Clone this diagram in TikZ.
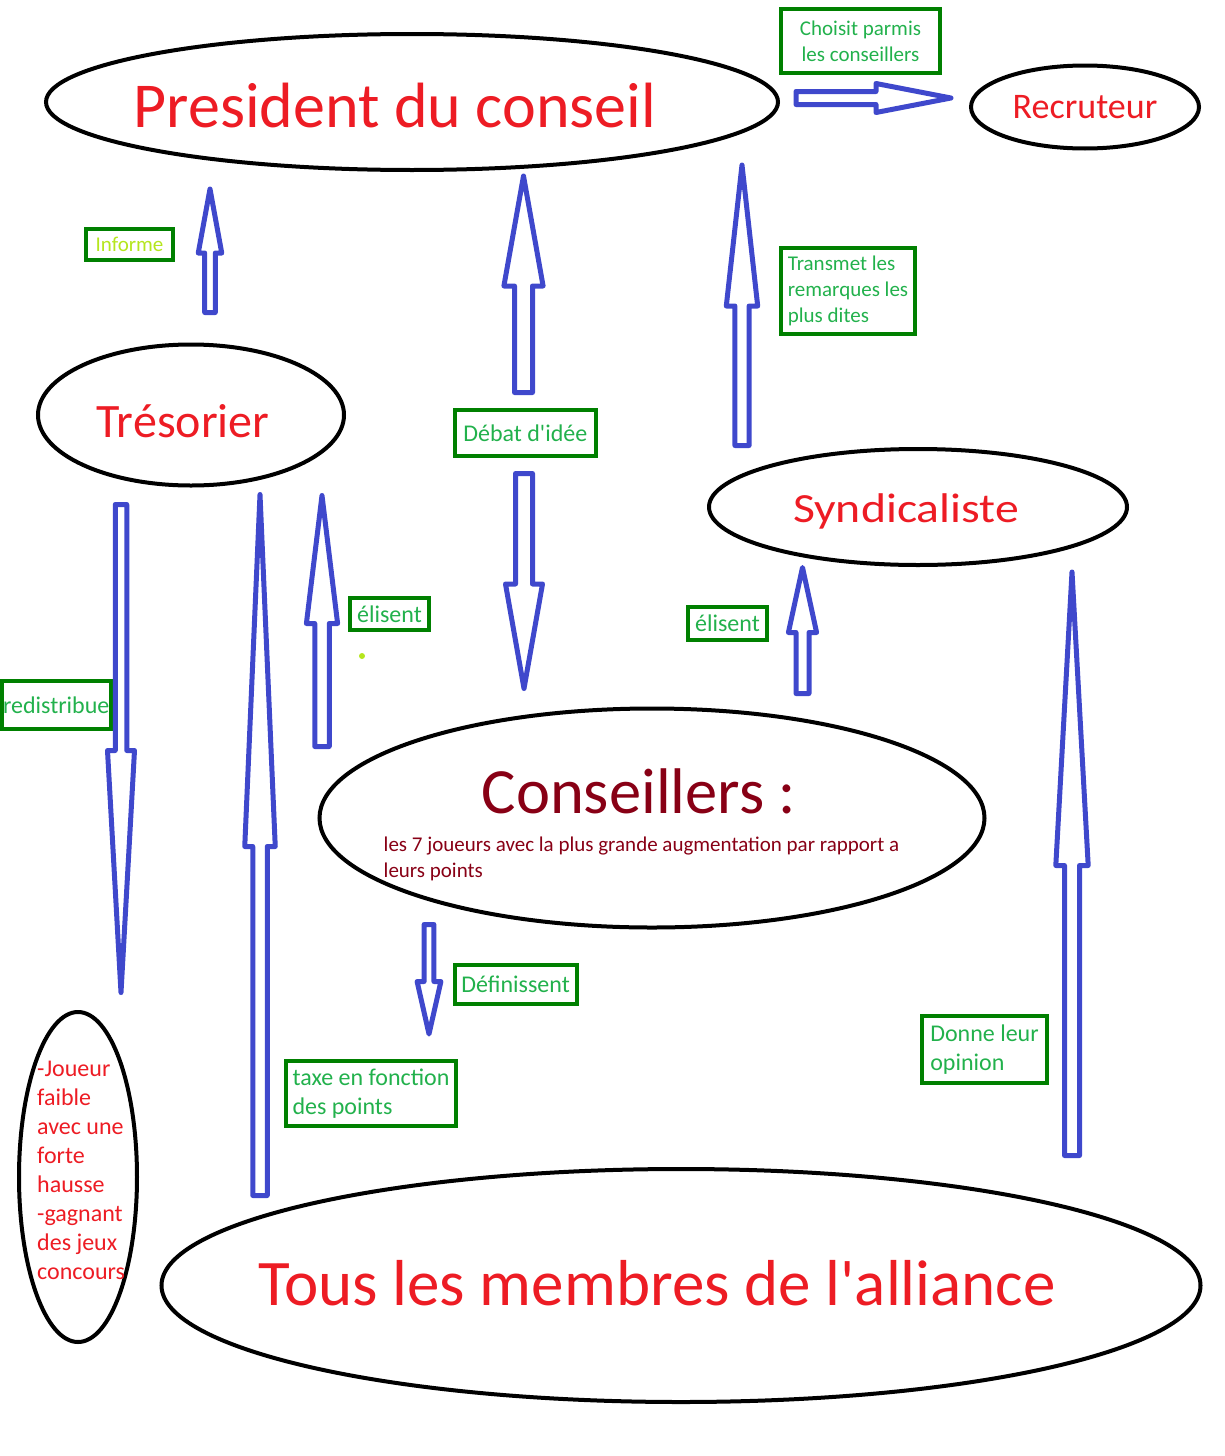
\documentclass[tikz,border=0pt]{standalone}
\usepackage{fontspec}
\setmainfont{Carlito}
\newfontfamily\widefont[FakeStretch=1.15]{Carlito}
\usetikzlibrary{calc,shapes.geometric}
\definecolor{paintred}{RGB}{237,28,36}
\definecolor{paintdarkred}{RGB}{136,0,21}
\definecolor{paintgreen}{RGB}{34,177,76}
\definecolor{boxgreen}{RGB}{0,128,0}
\definecolor{paintlime}{RGB}{181,230,29}
\definecolor{paintblue}{RGB}{63,72,204}
\tikzset{
	role/.style={
		ellipse,
		draw=black,
		line width=4pt,
		inner sep=0pt
	},
	role text/.style={
		anchor=base,
		inner sep=0pt,
		text=paintred
	},
	tag/.style={
		rectangle,
		draw=boxgreen,
		line width=4pt,
		inner sep=0pt,
		text=paintgreen,
		font=\fontsize{24}{29}\selectfont
	},
	small tag/.style={
		tag,
		font=\fontsize{21}{26}\selectfont
	},
	fat arrow/.style={
		draw=paintblue,
		line width=5pt,
		line join=round
	}
}
% block arrow: tail, tip, shaft half width, head half width, head length
\newcommand{\fatarrow}[5]{%
	\coordinate (fa-h) at ($(#2)!#5!(#1)$);
	\draw[fat arrow] ($(#1)!#3!90:(#2)$) -- ($(fa-h)!#3!-90:(#1)$) -- ($(fa-h)!#4!-90:(#1)$) -- (#2)
		-- ($(fa-h)!#4!90:(#1)$) -- ($(fa-h)!#3!90:(#1)$) -- ($(#1)!#3!-90:(#2)$) -- cycle;
}

\begin{document}
\begin{tikzpicture}[x=1pt,y=-1pt]
	\useasboundingbox (0,0) rectangle (1224,1456);

	% roles
	\node[role, minimum width=732pt, minimum height=136pt] (pres) at (412,102) {};
	\node[role text, font=\fontsize{64}{77}\selectfont] (pres-t) at (395,127) {President du conseil};
	\node[role, minimum width=228pt, minimum height=83pt] (recr) at (1085,107) {};
	\node[role text, font=\fontsize{36}{43}\selectfont] (recr-t) at (1085,118) {Recruteur};
	\node[role, minimum width=306pt, minimum height=141pt] (tres) at (191,415) {};
	\node[role text, font=\fontsize{48}{58}\selectfont] (tres-t) at (183,437) {Trésorier};
	\node[role, minimum width=418pt, minimum height=116pt] (synd) at (918,507) {};
	\node[role text, font=\widefont\fontsize{41.5}{50}\selectfont] (synd-t) at (906,522) {Syndicaliste};
	\node[role, minimum width=665pt, minimum height=219pt] (cons) at (652,818) {};
	\node[role text, text=paintdarkred, font=\fontsize{64.5}{77}\selectfont] (cons-t) at (639,813) {Conseillers :};
	\node[anchor=north west, inner sep=0pt, align=left, text=paintdarkred,
		font=\fontsize{21}{25.5}\selectfont] (cons-d) at (383.5,837) {les 7 joueurs avec la plus grande augmentation par rapport a\\leurs points};
	\node[role, minimum width=118pt, minimum height=330pt] (joueur) at (78,1177) {};
	\node[anchor=north west, inner sep=0pt, align=left, text=paintred,
		font=\fontsize{24}{29}\selectfont] (joueur-t) at (37,1061) {-Joueur\\faible\\avec une\\forte\\hausse\\-gagnant\\des jeux\\concours};
	\node[role, minimum width=1039pt, minimum height=233pt] (tous) at (681,1285.5) {};
	\node[role text, font=\fontsize{65}{78}\selectfont] (tous-t) at (657,1305) {Tous les membres de l\textquotesingle alliance};

	% tags
	\node[small tag, minimum width=159pt, minimum height=64pt, align=center] (choisit) at (860.5,41) {Choisit parmis\\les conseillers};
	\node[small tag, minimum width=134.5pt, minimum height=86pt, align=left] (transmet) at (848,291) {Transmet les\\remarques les\\plus dites};
	\node[small tag, text=paintlime, minimum width=87pt, minimum height=31pt] (informe) at (129.5,244) {Informe};
	\node[tag, minimum width=140.5pt, minimum height=46pt] (debat) at (525.3,433) {Débat d\textquotesingle idée};
	\node[tag, minimum width=79pt, minimum height=32pt] (elisent-l) at (389.5,614) {élisent};
	\node[tag, minimum width=108.5pt, minimum height=47.5pt] (redistribue) at (56.25,705) {redistribue};
	\node[tag, minimum width=79pt, minimum height=33pt] (elisent-r) at (727.5,623.5) {élisent};
	\node[tag, minimum width=122pt, minimum height=39pt] (definissent) at (515.6,984.5) {Définissent};
	\node[tag, minimum width=170pt, minimum height=65pt, align=left] (taxe) at (371,1093.5) {taxe en fonction\\des points};
	\node[tag, minimum width=125pt, minimum height=67pt, align=left] (donne) at (984.5,1049.5) {Donne leur\\opinion};
	\node[circle, fill=paintlime, inner sep=0pt, minimum size=6pt] (dot) at (362,656) {};

	% arrows
	\coordinate (choisit-tail) at (796,98);
	\coordinate (choisit-tip) at (951,98);
	\fatarrow{choisit-tail}{choisit-tip}{6.5pt}{14.5pt}{75pt}
	\coordinate (informe-tail) at (210,312.5);
	\coordinate (informe-tip) at (210,189);
	\fatarrow{informe-tail}{informe-tip}{5.3pt}{11.75pt}{64pt}
	\coordinate (debat-up-tail) at (523.5,392.5);
	\coordinate (debat-up-tip) at (523.5,176);
	\fatarrow{debat-up-tail}{debat-up-tip}{9pt}{19.6pt}{110pt}
	\coordinate (debat-down-tail) at (524,473.5);
	\coordinate (debat-down-tip) at (524,688.5);
	\fatarrow{debat-down-tail}{debat-down-tip}{8.5pt}{18.5pt}{104.5pt}
	\coordinate (transmet-tail) at (742,445.5);
	\coordinate (transmet-tip) at (742,165);
	\fatarrow{transmet-tail}{transmet-tip}{7.1pt}{15.7pt}{141pt}
	\coordinate (redistribue-tail) at (121,504.5);
	\coordinate (redistribue-tip) at (121,992.5);
	\fatarrow{redistribue-tail}{redistribue-tip}{5.75pt}{13.5pt}{242pt}
	\coordinate (taxe-tail) at (260,1195.5);
	\coordinate (taxe-tip) at (260,494.5);
	\fatarrow{taxe-tail}{taxe-tip}{7.25pt}{15.25pt}{352pt}
	\coordinate (elisent-l-tail) at (322,746.5);
	\coordinate (elisent-l-tip) at (322,495.5);
	\fatarrow{elisent-l-tail}{elisent-l-tip}{7.25pt}{15.6pt}{128pt}
	\coordinate (elisent-r-tail) at (802.5,693.5);
	\coordinate (elisent-r-tip) at (802.5,567.5);
	\fatarrow{elisent-r-tail}{elisent-r-tip}{6.5pt}{14.1pt}{65pt}
	\coordinate (definissent-tail) at (429,924.5);
	\coordinate (definissent-tip) at (429,1034);
	\fatarrow{definissent-tail}{definissent-tip}{4.9pt}{11.9pt}{52.5pt}
	\coordinate (donne-tail) at (1072,1155.5);
	\coordinate (donne-tip) at (1072,572);
	\fatarrow{donne-tail}{donne-tip}{7.5pt}{16.2pt}{293.5pt}
\end{tikzpicture}
\end{document}
